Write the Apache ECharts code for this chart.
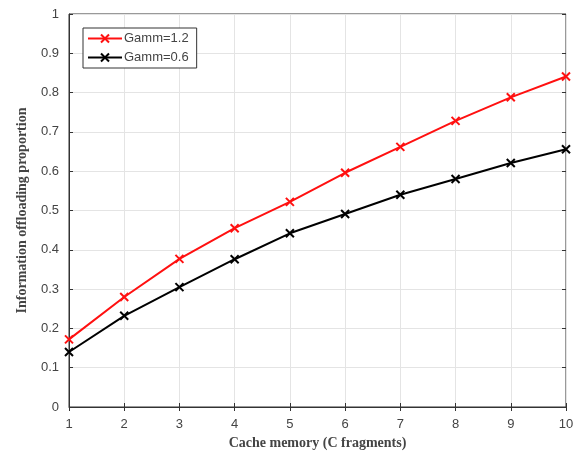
<!DOCTYPE html>
<html>
<head>
    <meta charset="utf-8">
    <title></title>
    <style>
        html, body { margin: 0; padding: 0; background: #fff; }
        #chart { width: 579px; height: 457px; }
    </style>
</head>
<body>
<div id="chart"></div>
<script type="text/javascript" src="https://cdn.jsdelivr.net/npm/echarts@6/dist/echarts.min.js"></script>
<script type="text/javascript">
    // values
    var cacheSizes = [1, 2, 3, 4, 5, 6, 7, 8, 9, 10];
    var gamma12 = [0.172, 0.280, 0.377, 0.455, 0.522, 0.596, 0.662, 0.728, 0.788, 0.841];
    var gamma06 = [0.140, 0.232, 0.305, 0.376, 0.442, 0.491, 0.540, 0.580, 0.621, 0.656];
    var seriesNames = ['Gamm=1.2', 'Gamm=0.6'];

    var cross = 'path://M0,0L10,10M10,0L0,10';
    function pairs(vals) {
        return vals.map(function (v, i) { return [cacheSizes[i], v]; });
    }
    var tickFont = { color: '#444', fontFamily: 'Liberation Sans, Arial', fontSize: 13 };
    var titleFont = { color: '#444', fontFamily: 'Liberation Serif, Times New Roman', fontWeight: 'bold', fontSize: 14 };

    var myChart = echarts.init(document.getElementById('chart'));
    var option = {
        animation: false,
        grid: { left: 69, right: 13, top: 14, bottom: 50, show: true, borderColor: '#333', borderWidth: 1 },
        legend: {
            data: seriesNames,
            orient: 'vertical',
            left: 83, top: 28,
            padding: [4, 8, 4, 4],
            itemGap: 6,
            itemWidth: 34, itemHeight: 10,
            borderColor: '#333', borderWidth: 1, backgroundColor: '#fff',
            textStyle: { color: '#444', fontFamily: 'Liberation Sans, Arial', fontSize: 13, padding: [0, 0, 0, -3] }
        },
        xAxis: [{
            type: 'value', min: 1, max: 10, interval: 1,
            name: 'Cache memory (C fragments)', nameLocation: 'middle', nameGap: 28,
            nameTextStyle: titleFont,
            axisLine: { lineStyle: { color: '#333' } },
            axisTick: { inside: true, length: 4, lineStyle: { color: '#333' } },
            axisLabel: Object.assign({ margin: 11 }, tickFont),
            splitLine: { show: true, lineStyle: { color: '#e4e4e4' } }
        }, {
            type: 'value', min: 1, max: 10, interval: 1, position: 'top',
            axisLine: { show: false },
            axisTick: { inside: true, length: 4, lineStyle: { color: '#333' } },
            axisLabel: { show: false }, splitLine: { show: false }
        }],
        yAxis: [{
            type: 'value', min: 0, max: 1, interval: 0.1,
            name: 'Information offloading proportion', nameLocation: 'middle', nameGap: 40,
            nameTextStyle: titleFont,
            axisLine: { lineStyle: { color: '#333' } },
            axisTick: { inside: true, length: 4, lineStyle: { color: '#333' } },
            axisLabel: Object.assign({ margin: 10, formatter: function (v) { return +v.toFixed(1) + ''; } }, tickFont),
            splitLine: { show: true, lineStyle: { color: '#e4e4e4' } }
        }, {
            type: 'value', min: 0, max: 1, interval: 0.1, position: 'right',
            axisLine: { show: false },
            axisTick: { inside: true, length: 4, lineStyle: { color: '#333' } },
            axisLabel: { show: false }, splitLine: { show: false }
        }],
        series: [{
            name: seriesNames[0], type: 'line', data: pairs(gamma12),
            symbol: cross, symbolSize: 8, showAllSymbol: true,
            lineStyle: { color: '#ff1010', width: 2 },
            itemStyle: { color: '#ff1010', borderColor: '#ff1010', borderWidth: 2 }
        }, {
            name: seriesNames[1], type: 'line', data: pairs(gamma06),
            symbol: cross, symbolSize: 8, showAllSymbol: true,
            lineStyle: { color: '#000', width: 2 },
            itemStyle: { color: '#000', borderColor: '#000', borderWidth: 2 }
        }]
    };
    myChart.setOption(option);
</script>
</body>
</html>
